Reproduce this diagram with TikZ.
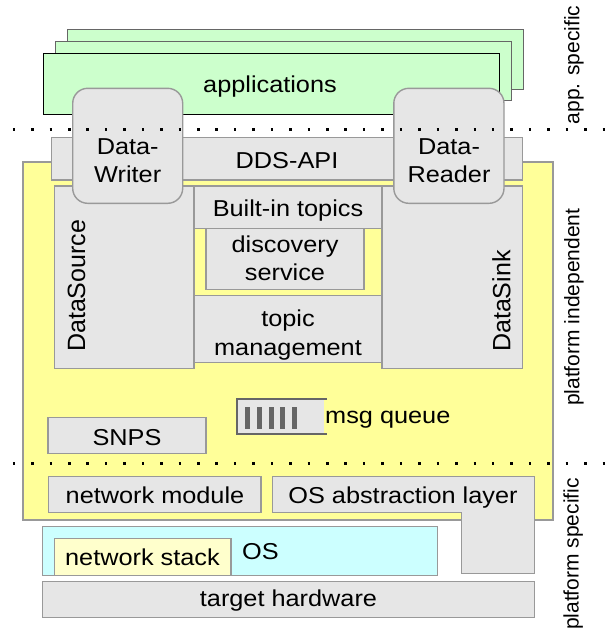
\documentclass[tikz,border=0pt]{standalone}
\usepackage{fontspec}
\setmainfont{Liberation Sans}
\usepackage{tikz}
\usetikzlibrary{positioning}
\definecolor{appgreen}{HTML}{CCFFCC}
\definecolor{pfyellow}{HTML}{FFFF99}
\definecolor{boxgray}{HTML}{E6E6E6}
\definecolor{linegray}{HTML}{999999}
\definecolor{oscyan}{HTML}{CCFFFF}
\definecolor{stackyellow}{HTML}{FFFFCC}
\definecolor{bargray}{HTML}{666666}
\tikzset{module/.style={fill=boxgray,draw=linegray,line width=1.4pt}}
\tikzset{txt/.style={font=\fontsize{23}{28.3}\selectfont,xscale=1.1,align=center,inner sep=0pt}}
\tikzset{vtxt/.style={font=\fontsize{25}{28}\selectfont,rotate=90,inner sep=0pt,anchor=west}}
\tikzset{side/.style={font=\fontsize{21}{24}\selectfont,rotate=90,inner sep=0pt}}
\tikzset{layerline/.style={line width=2.5pt,dash pattern=on 2.5pt off 15.93pt}}

\begin{document}
\begin{tikzpicture}
[x=1pt,y=-1pt]
\useasboundingbox (0,0) rectangle (613,633);

% applications
\filldraw[fill=appgreen,draw=black!60] (67.6,29) rectangle (522.7,89.3);
\filldraw[fill=appgreen,draw=black!60] (55.5,41) rectangle (511,100);
\filldraw[fill=appgreen,draw=black] (43.3,53.3) rectangle (499,114);
\node[txt,anchor=base] (apps) at (270,92.7) {applications};

% platform independent part
\filldraw[fill=pfyellow,draw=linegray,line width=2.2pt] (23.3,161.7) rectangle (552.7,520);
\filldraw[module] (51.7,137.3) rectangle (522.3,180);
\node[txt,anchor=base] (api) at (287,168.3) {DDS-API};

\filldraw[module] (54.3,186) rectangle (194,368.3);
\filldraw[module] (194,186) rectangle (382,228.3);
\filldraw[module] (206,228.3) rectangle (364,289.3);
\filldraw[module] (194,295.7) rectangle (382,362.3);
\filldraw[module] (382,186) rectangle (522.3,368.3);
\node[vtxt] (source) at (76.5,352) {DataSource};
\node[vtxt] (sink) at (501.5,352) {DataSink};
\node[txt,anchor=base] (builtin) at (288,216) {Built-in topics};
\node[txt] (discovery) at (285,258.6) {discovery\\service};
\node[txt] (topicmgmt) at (288,335) {topic\\management};

\filldraw[module,rounded corners=15pt] (72.7,88.3) rectangle (182.7,203.3);
\filldraw[module,rounded corners=15pt] (393.8,88.3) rectangle (504,203.3);
\node[txt] (writer) at (127.7,161) {Data-\\Writer};
\node[txt] (reader) at (449,161) {Data-\\Reader};

\filldraw[module] (48,417.3) rectangle (206,453.3);
\node[txt,anchor=base] (snps) at (127,445) {SNPS};

% msg queue
\fill[boxgray] (236.7,399.3) rectangle (324,434.3);
\draw[bargray,line width=2pt] (327,399.3) -- (236.7,399.3) -- (236.7,434.3) -- (327,434.3);
\foreach \i in {0,...,4}
  \fill[bargray] (245+11.8*\i,406.7) rectangle (250+11.8*\i,429.3);
\node[txt,anchor=base west] (queue) at (325,423.3) {msg queue};

% platform specific part
\filldraw[module] (48.3,476.7) rectangle (261,512.7);
\node[txt,anchor=base] (netmod) at (155,503.3) {network module};
\filldraw[module] (272.6,476.7) -- (534.3,476.7) -- (534.3,573.3) -- (461.7,573.3)
  -- (461.7,512.7) -- (272.6,512.7) -- cycle;
\node[txt,anchor=base] (osal) at (403,503.3) {OS abstraction layer};

\filldraw[fill=oscyan,draw=linegray,line width=1.4pt] (42.7,526.7) rectangle (437.3,575.3);
\filldraw[fill=stackyellow,draw=linegray,line width=1.4pt] (54.3,538.3) rectangle (231,575.3);
\node[txt,anchor=base] (stack) at (142.5,565) {network stack};
\node[txt,anchor=base] (os) at (260.5,559.3) {OS};

\filldraw[module] (42.7,581.7) rectangle (534.3,617.3);
\node[txt,anchor=base] (hw) at (288.5,606.7) {target hardware};

% layer borders
\coordinate (topL) at (12.75,129.3);
\coordinate (topR) at (606,129.3);
\coordinate (lowL) at (12.75,463.3);
\coordinate (lowR) at (606,463.3);
\draw[layerline] (topL) -- (topR);
\draw[layerline] (lowL) -- (lowR);

\node[side] (appspec) at (574,65) {app. specific};
\node[side] (pfindep) at (574,307.3) {platform independent};
\node[side] (pfspec) at (573.3,554) {platform specific};
\end{tikzpicture}
\end{document}
